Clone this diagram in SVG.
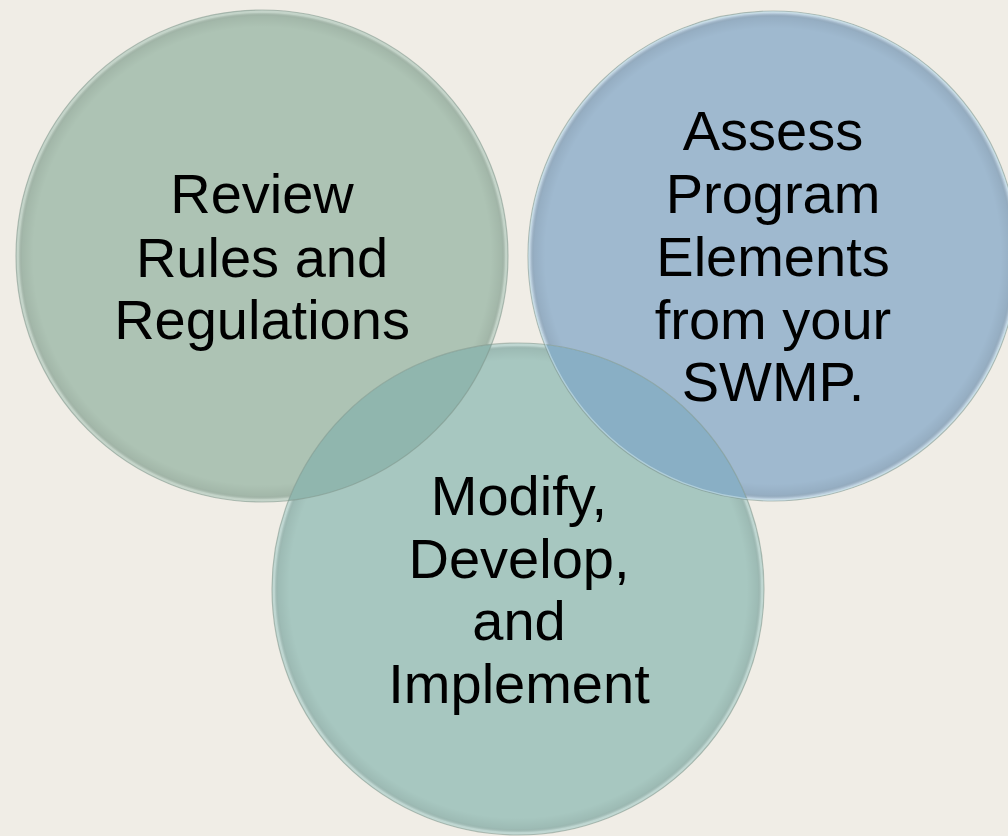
<svg xmlns="http://www.w3.org/2000/svg" width="1008" height="836" viewBox="0 0 1008 836">
  <defs>
    <style>
      .lbl { font-family: "Liberation Sans", Arial, sans-serif; font-size: 56px; fill: #000; text-anchor: middle; }
      .rim { fill: url(#rimGrad); }
      .edge { fill: none; stroke: #7f958a; stroke-opacity: 0.55; stroke-width: 1.2; }
    </style>
    <radialGradient id="rimGrad" cx="0.5" cy="0.5" r="0.5">
      <stop offset="0" stop-color="#000" stop-opacity="0"/>
      <stop offset="0.93" stop-color="#000" stop-opacity="0"/>
      <stop offset="0.975" stop-color="#000" stop-opacity="0.06"/>
      <stop offset="0.99" stop-color="#fff" stop-opacity="0.25"/>
      <stop offset="1" stop-color="#fff" stop-opacity="0.35"/>
    </radialGradient>
    <clipPath id="clipLeft"><circle cx="262" cy="256" r="246"/></clipPath>
    <clipPath id="clipRight"><circle cx="773" cy="256" r="245"/></clipPath>
  </defs>
  <rect width="1008" height="836" fill="#f0ede6"/>

  <g id="node-review">
    <circle cx="262" cy="256" r="246" fill="#adc3b4"/>
    <circle class="rim" cx="262" cy="256" r="246"/>
  </g>
  <g id="node-assess">
    <circle cx="773" cy="256" r="245" fill="#9fb9cf"/>
    <circle class="rim" cx="773" cy="256" r="245"/>
  </g>
  <g id="node-modify">
    <circle cx="518" cy="589" r="246" fill="#a7c7c0"/>
    <circle class="rim" cx="518" cy="589" r="246"/>
    <circle cx="518" cy="589" r="246" fill="#90b6ae" clip-path="url(#clipLeft)"/>
    <circle cx="518" cy="589" r="246" fill="#89afc5" clip-path="url(#clipRight)"/>
  </g>

  <g id="outlines">
    <circle class="edge" cx="262" cy="256" r="246"/>
    <circle class="edge" cx="773" cy="256" r="245" stroke="#6f8fa8"/>
    <circle class="edge" cx="518" cy="589" r="246"/>
    <circle cx="773" cy="256" r="244" fill="none" stroke="#d6eef0" stroke-opacity="0.5" stroke-width="1.5"/>
  </g>

  <g id="connectors"/>

  <g id="labels">
    <text class="lbl" x="262" y="213">Review</text>
    <text class="lbl" x="262" y="277">Rules and</text>
    <text class="lbl" x="262" y="339">Regulations</text>

    <text class="lbl" x="773" y="150">Assess</text>
    <text class="lbl" x="773" y="213">Program</text>
    <text class="lbl" x="773" y="276">Elements</text>
    <text class="lbl" x="773" y="339">from your</text>
    <text class="lbl" x="773" y="401">SWMP.</text>

    <text class="lbl" x="519" y="515">Modify,</text>
    <text class="lbl" x="519" y="578">Develop,</text>
    <text class="lbl" x="519" y="640">and</text>
    <text class="lbl" x="519" y="703">Implement</text>
  </g>
</svg>
